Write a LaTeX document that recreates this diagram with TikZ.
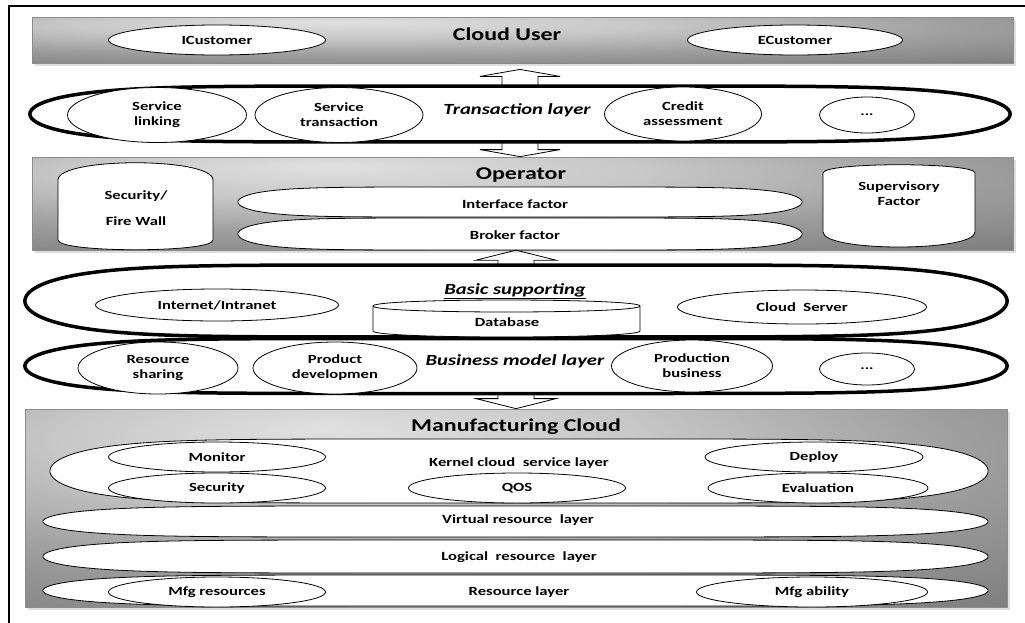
\documentclass[tikz,border=0pt]{standalone}
\usepackage{fontspec}
\setmainfont{Carlito}[FakeStretch=1.33]
\usetikzlibrary{calc,shapes.geometric,shadows}

\pgfdeclareradialshading{boxshade}{\pgfpoint{-10bp}{20bp}}{%
  color(0bp)=(black!12); color(15bp)=(black!22); color(30bp)=(black!38); color(50bp)=(black!53); color(100bp)=(black!60)}

\tikzset{
  every node/.style={font=\bfseries\fontsize{12.5}{15}\selectfont, align=center, inner sep=0pt},
  graybox/.style={draw=black!45, line width=0.8pt, shading=boxshade,
    drop shadow={shadow xshift=3pt, shadow yshift=-3pt, fill=black!25}},
  bubble/.style={ellipse, draw, fill=white, line width=0.8pt},
  thinlayer/.style={draw, fill=white, line width=0.8pt},
  thicklayer/.style={draw, fill=white, line width=3.5pt},
  headline/.style={font=\bfseries\fontsize{18}{20}\selectfont},
  layerlabel/.style={font=\bfseries\itshape\fontsize{15.5}{18}\selectfont},
  blockarr/.style={draw, line width=0.8pt},
  drum/.style={draw, fill=white, line width=0.8pt}
}

% flat oval: [style]{name}{x}{y}{half width}{half height}
\newcommand\flatoval[6][thinlayer]{%
  \draw[#1, shift={(#3,#4)}] plot[domain=1.25:361.25, samples=145, variable=\t]
    ({#5*sign(cos(\t))*pow(abs(cos(\t)),0.3)}, {#6*sin(\t)}) -- cycle;
  \node[minimum width=2*#5, minimum height=2*#6] (#2) at (#3,#4) {};}

% block arrow: {from}{to}{head length}
\newcommand\blockarrow[3]{%
  \coordinate (tip) at (#1 |- #2);
  \draw[blockarr] ($(#1)+(-18,0)$) -- ($(tip)+(-18,#3)$) -- ($(tip)+(-40,#3)$) -- (tip)
    -- ($(tip)+(40,#3)$) -- ($(tip)+(18,#3)$) -- ($(#1)+(18,0)$);}

\begin{document}
\begin{tikzpicture}[x=1pt, y=-1pt]
\useasboundingbox (0,0) rectangle (1025,622);
\clip (0,0) rectangle (1025,622);
\fill[white] (0,0) rectangle (1025,622);
\draw[line width=2pt] (9,6) rectangle (1040,640);

% Cloud User
\node[graybox, minimum width=981, minimum height=46] (user) at (522.5,40) {};
\node[headline] (usertitle) at (507,34) {Cloud User};
\node[bubble, minimum width=217, minimum height=30] (icust) at (217,40) {ICustomer};
\node[bubble, minimum width=215, minimum height=30] (ecust) at (795,40) {ECustomer};
\coordinate (usertip) at ([yshift=-6pt]user.south);

% Transaction layer
\flatoval[thicklayer]{trans}{520}{114}{490}{28}
\node[layerlabel] (translbl) at (517,110) {Transaction layer};
\node[bubble, minimum width=179, minimum height=55] (link) at (157,115) {Service\\linking};
\node[bubble, minimum width=168, minimum height=55] (stran) at (339,115) {Service\\transaction};
\node[bubble, minimum width=157, minimum height=54] (credit) at (683,114) {Credit\\assessment};
\node[bubble, minimum width=95, minimum height=36] (tdots) at (867,115) {...};

% Operator
\node[graybox, minimum width=981, minimum height=93] (op) at (522.5,203.5) {};
\node[headline] (optitle) at (521,175) {Operator};
\draw[drum] (58,180) -- (58,240) .. controls (58,253) and (213,253) .. (213,240)
  -- (213,180) .. controls (213,157) and (58,157) .. cycle;
\node (fw) at (136,208) {Security/\\[11pt]Fire Wall};
\draw[drum] (823,173) -- (823,232) .. controls (823,252) and (975,252) .. (975,232)
  -- (975,173) .. controls (975,162) and (823,162) .. cycle;
\node (superv) at (899,194) {Supervisory\\Factor};
\flatoval{iface}{520}{202}{282}{15}
\node (ifacelbl) at (515,204) {Interface factor};
\flatoval{broker}{520}{234}{282}{16}
\node (brokerlbl) at (515,235) {Broker factor};

\blockarrow{trans.north}{usertip}{7}
\blockarrow{trans.south}{op.north}{-7}

% Basic supporting
\flatoval[thicklayer]{basic}{516}{301}{491}{36}
\node[layerlabel] (basiclbl) at (515,291) {\underline{Basic supporting}};
\node[bubble, minimum width=243, minimum height=32] (net) at (217,305) {Internet/Intranet};
\draw[drum] (373,306) -- (373,331) .. controls (373,339) and (640,339) .. (640,331)
  -- (640,306) .. controls (640,298) and (373,298) .. cycle;
\draw[drum] (373,306) .. controls (373,314) and (640,314) .. (640,306);
\node (db) at (507,322) {Database};
\node[bubble, minimum width=249, minimum height=34] (server) at (802,307) {Cloud\ \ Server};

\blockarrow{basic.north}{broker.south}{10}

% Business model layer
\flatoval[thicklayer]{business}{516}{366}{491}{27.5}
\node[layerlabel] (businesslbl) at (515,361) {Business model layer};
\node[bubble, minimum width=160, minimum height=52] (share) at (158,368) {Resource\\sharing};
\node[bubble, minimum width=164, minimum height=52] (devel) at (335,368) {Product\\developmen};
\node[bubble, minimum width=161, minimum height=52] (prod) at (692,366) {Production\\business};
\node[bubble, minimum width=95, minimum height=32] (bdots) at (867,369) {...};

% Manufacturing Cloud
\node[graybox, minimum width=982, minimum height=198] (mfg) at (516,508) {};
\node[headline] (mfgtitle) at (516,427) {Manufacturing Cloud};
\blockarrow{business.south}{mfg.north}{-10}

\flatoval{kernel}{519}{471}{469}{32}
\node (kernellbl) at (519,463) {Kernel cloud\ \ service layer};
\node[bubble, minimum width=217, minimum height=30] (monitor) at (217,457) {Monitor};
\node[bubble, minimum width=217, minimum height=30] (secur) at (217,488) {Security};
\node[bubble, minimum width=217, minimum height=30] (qos) at (517,488) {QOS};
\node[bubble, minimum width=218, minimum height=30] (deploy) at (814,457) {Deploy};
\node[bubble, minimum width=220, minimum height=30] (eval) at (818,488) {Evaluation};

\flatoval{virtual}{515.5}{521.5}{472.5}{15.5}
\node (virtuallbl) at (518,520) {Virtual resource\ \ layer};
\flatoval{logical}{515.5}{556.5}{472.5}{16.5}
\node (logicallbl) at (519,557) {Logical\ \ resource\ \ layer};
\flatoval{reslayer}{515.5}{590.5}{472.5}{15.5}
\node (reslbl) at (519,592) {Resource layer};
\node[bubble, minimum width=217, minimum height=30] (mfgres) at (217,592) {Mfg resources};
\node[bubble, minimum width=231, minimum height=30] (mfgab) at (812,592) {Mfg ability};
\end{tikzpicture}
\end{document}
